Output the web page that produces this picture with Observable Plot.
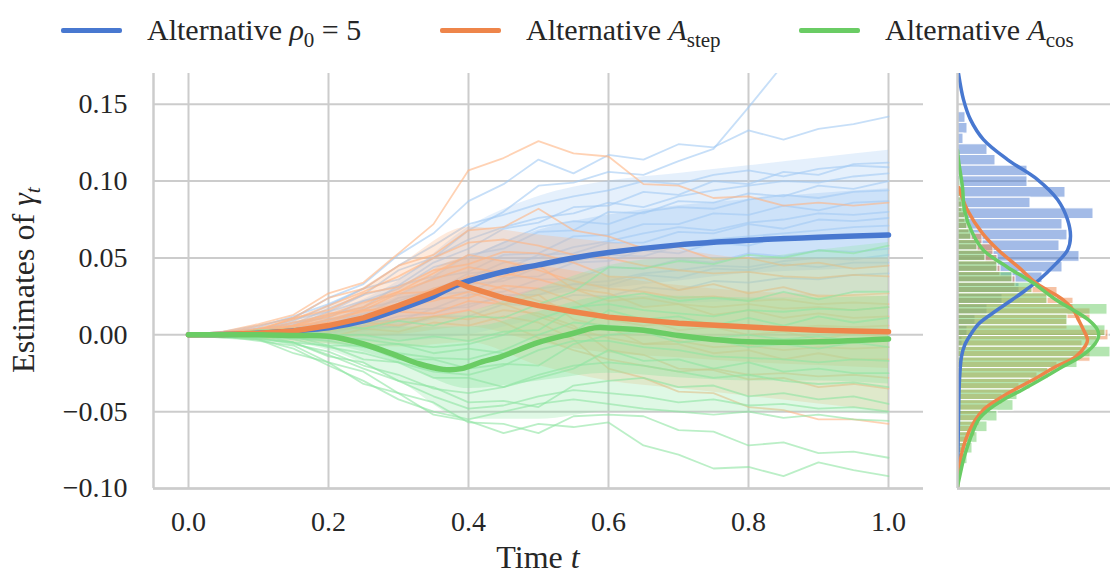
<!DOCTYPE html>
<html><head><meta charset="utf-8">
<script src="https://cdn.jsdelivr.net/npm/d3@7"></script>
<script src="https://cdn.jsdelivr.net/npm/@observablehq/plot@0.6"></script>
<style>
body{margin:0;background:#fff;font-family:"Liberation Serif",serif;color:#262626}
#wrap{position:relative;width:1110px;height:577px;overflow:hidden;background:#fff}
#legend{position:relative;height:56px;width:1110px}
.sw{position:absolute;top:28px;width:61px;height:4.5px;border-radius:2px}
.lt{position:absolute;top:15px;font-size:30px;line-height:30px;white-space:nowrap}
.lt .sb{font-size:21px;position:relative;top:7px}
#plots{display:flex;align-items:flex-start}
</style></head>
<body>
<div id="wrap">
  <div id="legend"></div>
  <div id="plots"></div>
</div>
<script>
// ---------- data ----------
const seriesNames = ["rho", "step", "cos"];
const meanColors = ["#4878d0", "#ee854a", "#6acc64"];
const pathColors = ["#a1c9f4", "#ffb482", "#8de5a1"];
const xTicks = [0, 0.2, 0.4, 0.6, 0.8, 1.0];
const yTicks = [-0.10, -0.05, 0.00, 0.05, 0.10, 0.15];

// time grid of the individual sample paths
const T = [0,0.05,0.1,0.15,0.2,0.25,0.3,0.35,0.4,0.45,0.5,0.55,0.6,0.65,0.7,0.75,0.8,0.85,0.9,0.95,1.0];

const bluePaths = [
  [0,0.001,0.004,0.007,0.017,0.026,0.042,0.05,0.068,0.08,0.097,0.099,0.106,0.104,0.113,0.121,0.148,0.176,0.19,0.203,0.212],
  [0,0.002,0.006,0.011,0.024,0.033,0.052,0.066,0.087,0.098,0.114,0.105,0.117,0.114,0.124,0.122,0.133,0.127,0.134,0.137,0.142],
  [0,0.001,0.003,0.01,0.015,0.026,0.032,0.047,0.056,0.069,0.073,0.083,0.084,0.093,0.091,0.1,0.098,0.106,0.104,0.111,0.112],
  [0,0.0,0.003,0.005,0.013,0.018,0.032,0.038,0.052,0.056,0.067,0.068,0.08,0.079,0.087,0.086,0.092,0.09,0.097,0.095,0.1],
  [0,0.001,0.002,0.008,0.011,0.022,0.026,0.037,0.041,0.052,0.053,0.064,0.065,0.072,0.072,0.079,0.078,0.084,0.081,0.086,0.087],
  [0,-0.001,0.003,0.004,0.01,0.013,0.024,0.028,0.04,0.042,0.052,0.053,0.06,0.06,0.067,0.066,0.072,0.069,0.075,0.074,0.076],
  [0,0.001,0.0,0.005,0.007,0.014,0.016,0.026,0.028,0.037,0.038,0.047,0.048,0.055,0.053,0.06,0.058,0.064,0.062,0.065,0.066],
  [0,-0.001,0.002,0.002,0.007,0.008,0.016,0.017,0.026,0.028,0.036,0.036,0.044,0.043,0.049,0.047,0.053,0.051,0.055,0.054,0.056],
  [0,0.001,-0.001,0.003,0.003,0.009,0.009,0.017,0.018,0.026,0.026,0.033,0.032,0.039,0.037,0.043,0.042,0.046,0.044,0.047,0.047],
  [0,0.0,-0.002,0.001,0.001,0.006,0.005,0.012,0.012,0.02,0.019,0.026,0.025,0.031,0.029,0.035,0.034,0.037,0.036,0.039,0.04],
  [0,0.001,0.005,0.012,0.02,0.03,0.045,0.058,0.072,0.078,0.085,0.09,0.094,0.1,0.098,0.104,0.107,0.103,0.108,0.11,0.109],
  [0,0.0,0.002,0.006,0.015,0.022,0.03,0.044,0.05,0.06,0.07,0.074,0.072,0.08,0.083,0.082,0.088,0.091,0.089,0.093,0.094],
  [0,0.001,0.001,0.004,0.009,0.017,0.022,0.03,0.037,0.047,0.05,0.057,0.061,0.066,0.07,0.068,0.073,0.075,0.079,0.078,0.08],
  [0,-0.001,0.001,0.004,0.006,0.012,0.02,0.025,0.033,0.035,0.044,0.048,0.052,0.051,0.058,0.062,0.064,0.066,0.068,0.07,0.071],
  [0,0.001,0.003,0.009,0.019,0.03,0.036,0.05,0.062,0.07,0.076,0.079,0.086,0.083,0.09,0.094,0.097,0.1,0.099,0.103,0.105],
  [0,0.0,0.0,0.001,0.004,0.006,0.012,0.014,0.02,0.024,0.03,0.033,0.035,0.04,0.042,0.045,0.044,0.048,0.05,0.049,0.052]
];
const orangePaths = [
  [0,0.002,0.007,0.013,0.027,0.034,0.053,0.072,0.107,0.115,0.126,0.118,0.116,0.098,0.097,0.089,0.09,0.084,0.086,0.084,0.086],
  [0,0.001,0.006,0.011,0.024,0.03,0.045,0.052,0.068,0.07,0.082,0.068,0.064,0.056,0.057,0.049,0.05,0.045,0.047,0.043,0.045],
  [0,0.002,0.003,0.011,0.016,0.027,0.031,0.042,0.046,0.054,0.053,0.047,0.038,0.037,0.029,0.033,0.027,0.031,0.025,0.026,0.027],
  [0,-0.001,0.004,0.006,0.014,0.016,0.027,0.028,0.038,0.038,0.045,0.03,0.027,0.018,0.02,0.013,0.016,0.011,0.014,0.011,0.012],
  [0,0.001,0.001,0.006,0.008,0.016,0.016,0.024,0.024,0.032,0.03,0.022,0.01,0.01,0.003,0.005,0.0,0.002,-0.003,0.001,-0.002],
  [0,-0.001,0.002,0.002,0.008,0.008,0.015,0.014,0.022,0.02,0.026,0.01,0.005,-0.006,-0.006,-0.012,-0.01,-0.016,-0.012,-0.016,-0.016],
  [0,0.001,-0.001,0.003,0.002,0.008,0.006,0.012,0.01,0.016,0.014,0.006,-0.01,-0.013,-0.022,-0.023,-0.029,-0.028,-0.034,-0.032,-0.035],
  [0,-0.001,-0.003,0.0,-0.002,0.004,0.002,0.008,0.006,0.012,0.008,-0.003,-0.022,-0.028,-0.037,-0.038,-0.047,-0.049,-0.055,-0.055,-0.058],
  [0,0.001,0.004,0.01,0.019,0.028,0.038,0.05,0.06,0.062,0.058,0.052,0.05,0.045,0.042,0.04,0.041,0.038,0.037,0.039,0.038],
  [0,0.0,0.003,0.008,0.013,0.021,0.028,0.036,0.044,0.04,0.036,0.03,0.022,0.024,0.02,0.018,0.02,0.017,0.018,0.016,0.018],
  [0,0.001,0.002,0.005,0.01,0.015,0.02,0.03,0.035,0.03,0.022,0.016,0.01,0.006,0.008,0.005,0.006,0.004,0.006,0.005,0.006],
  [0,-0.001,0.001,0.004,0.007,0.012,0.018,0.022,0.028,0.02,0.012,0.004,-0.002,-0.006,-0.004,-0.008,-0.007,-0.01,-0.008,-0.009,-0.008],
  [0,0.0,0.002,0.006,0.012,0.018,0.028,0.04,0.052,0.048,0.042,0.035,0.03,0.028,0.024,0.025,0.022,0.023,0.02,0.021,0.02],
  [0,0.0,-0.001,0.001,0.003,0.005,0.01,0.012,0.016,0.008,-0.002,-0.01,-0.016,-0.02,-0.024,-0.022,-0.026,-0.025,-0.027,-0.026,-0.028]
];
const greenPaths = [
  [0,-0.002,-0.003,-0.012,-0.018,-0.032,-0.038,-0.052,-0.056,-0.064,-0.058,-0.06,-0.057,-0.072,-0.078,-0.087,-0.086,-0.092,-0.083,-0.088,-0.092],
  [0,-0.001,-0.004,-0.007,-0.018,-0.024,-0.038,-0.044,-0.057,-0.058,-0.064,-0.053,-0.052,-0.053,-0.062,-0.063,-0.072,-0.07,-0.077,-0.076,-0.08],
  [0,0.001,-0.003,-0.005,-0.014,-0.018,-0.03,-0.034,-0.044,-0.043,-0.047,-0.033,-0.03,-0.028,-0.034,-0.033,-0.04,-0.038,-0.042,-0.04,-0.045],
  [0,-0.001,0.0,-0.005,-0.007,-0.016,-0.018,-0.028,-0.028,-0.034,-0.028,-0.022,-0.01,-0.017,-0.016,-0.022,-0.018,-0.024,-0.022,-0.025,-0.025],
  [0,0.001,-0.001,-0.001,-0.007,-0.007,-0.016,-0.016,-0.022,-0.019,-0.02,-0.006,0.0,0.002,-0.005,-0.003,-0.008,-0.006,-0.009,-0.005,-0.008],
  [0,0.0,0.002,-0.001,-0.001,-0.007,-0.006,-0.012,-0.009,-0.012,-0.004,0.002,0.016,0.01,0.012,0.006,0.011,0.006,0.012,0.008,0.011],
  [0,0.001,0.001,0.003,0.0,0.0,-0.004,-0.001,-0.004,0.002,0.003,0.017,0.024,0.027,0.022,0.024,0.022,0.028,0.023,0.028,0.028],
  [0,0.0,0.003,0.003,0.007,0.004,0.009,0.006,0.012,0.011,0.02,0.028,0.044,0.043,0.048,0.046,0.052,0.05,0.055,0.053,0.058],
  [0,-0.001,-0.003,-0.009,-0.02,-0.03,-0.042,-0.05,-0.055,-0.05,-0.045,-0.042,-0.045,-0.048,-0.05,-0.052,-0.05,-0.054,-0.052,-0.055,-0.056],
  [0,0.0,-0.002,-0.006,-0.011,-0.02,-0.026,-0.035,-0.038,-0.034,-0.026,-0.02,-0.018,-0.02,-0.024,-0.028,-0.026,-0.03,-0.032,-0.031,-0.034],
  [0,0.0,-0.001,-0.003,-0.008,-0.012,-0.018,-0.024,-0.026,-0.02,-0.01,-0.004,-0.004,-0.008,-0.01,-0.014,-0.015,-0.016,-0.018,-0.016,-0.017],
  [0,0.001,0.0,-0.002,-0.004,-0.008,-0.012,-0.015,-0.016,-0.01,0.0,0.008,0.006,0.004,0.0,-0.002,0.0,-0.003,-0.001,-0.004,-0.002],
  [0,0.0,0.001,0.0,-0.002,-0.003,-0.006,-0.008,-0.006,0.0,0.01,0.018,0.02,0.016,0.014,0.012,0.016,0.015,0.017,0.016,0.018],
  [0,-0.001,-0.002,-0.005,-0.013,-0.022,-0.03,-0.04,-0.048,-0.046,-0.04,-0.036,-0.038,-0.04,-0.044,-0.042,-0.046,-0.045,-0.048,-0.047,-0.05]
];

// spread of the sample-path clouds (outer and dense inner range)
const bandT = [0,0.1,0.2,0.3,0.4,0.5,0.6,0.7,0.8,0.9,1.0];
const blueOuterLo = [0,-0.002,-0.004,-0.004,0.0,0.01,0.015,0.02,0.022,0.025,0.028];
const blueOuterHi = [0,0.004,0.014,0.035,0.07,0.09,0.1,0.105,0.11,0.115,0.12];
const blueInnerLo = [0,-0.001,0.0,0.005,0.015,0.025,0.03,0.035,0.04,0.042,0.044];
const blueInnerHi = [0,0.002,0.01,0.025,0.05,0.068,0.078,0.084,0.088,0.092,0.095];
const orangeOuterLo = [0,-0.003,-0.006,-0.008,-0.005,-0.02,-0.03,-0.035,-0.04,-0.045,-0.05];
const orangeOuterHi = [0,0.005,0.018,0.045,0.07,0.065,0.06,0.055,0.05,0.05,0.05];
const orangeInnerLo = [0,-0.001,-0.002,0.0,0.005,-0.005,-0.012,-0.015,-0.018,-0.02,-0.022];
const orangeInnerHi = [0,0.003,0.012,0.03,0.05,0.045,0.038,0.032,0.028,0.026,0.025];
const greenOuterLo = [0,-0.003,-0.01,-0.03,-0.055,-0.055,-0.05,-0.05,-0.05,-0.05,-0.052];
const greenOuterHi = [0,0.003,0.006,0.01,0.015,0.03,0.045,0.05,0.05,0.055,0.06];
const greenInnerLo = [0,-0.002,-0.006,-0.018,-0.035,-0.03,-0.025,-0.028,-0.03,-0.03,-0.032];
const greenInnerHi = [0,0.002,0.004,0.005,0.005,0.015,0.025,0.025,0.024,0.024,0.025];

// mean estimates
const blueMeanT = [0,0.05,0.1,0.15,0.2,0.25,0.3,0.35,0.384,0.45,0.5,0.55,0.6,0.7,0.8,0.9,1.0];
const blueMeanV = [0,0.0002,0.001,0.0025,0.0045,0.009,0.0165,0.025,0.0325,0.041,0.0455,0.05,0.0535,0.0585,0.0615,0.0635,0.065];
const orangeMeanT = [0,0.05,0.1,0.15,0.2,0.25,0.3,0.35,0.384,0.4,0.45,0.5,0.55,0.6,0.7,0.8,0.9,1.0];
const orangeMeanV = [0,0.0002,0.001,0.0025,0.006,0.011,0.019,0.0275,0.034,0.031,0.024,0.019,0.015,0.0115,0.0075,0.005,0.003,0.002];
const greenMeanT = [0,0.1,0.15,0.2,0.25,0.3,0.33,0.364,0.39,0.42,0.446,0.5,0.55,0.58,0.6,0.65,0.7,0.75,0.8,0.9,1.0];
const greenMeanV = [0,0,-0.0005,-0.001,-0.006,-0.014,-0.019,-0.0225,-0.022,-0.0175,-0.0143,-0.005,0.001,0.0045,0.0045,0.003,-0.0005,-0.003,-0.0045,-0.0045,-0.0027];

// marginal histograms of the final estimates
const binWidth = 0.00695;
const blueBinTop = 0.1448;
const blueCounts = [8,10,6,30,38,70,70,108,73,136,105,110,102,122,105,85,62,45,30,18,10,5,3,2,1];
const orangeBinTop = 0.1006;
const orangeCounts = [2,3,5,8,12,25,36,40,43,58,100,116,133,110,151,125,133,100,80,62,45,30,22,18,12,8,5,4,3];
const greenBinTop = 0.1104;
const greenCounts = [2,3,5,6,8,10,14,20,28,40,55,75,90,150,110,148,140,153,120,91,73,60,56,40,30,20,15,10,5,3];

// smoothed densities
const blueKdeV = [0.17,0.153,0.14,0.127,0.114,0.101,0.088,0.075,0.064,0.055,0.046,0.036,0.029,0.023,0.014,0.007,0,-0.007,-0.014,-0.029,-0.055,-0.099];
const blueKdeD = [1,6,13,26,50,80,100,110,113,110,98,82,68,55,35,21,13,7,4,2,1,0];
const orangeKdeV = [0.096,0.081,0.066,0.055,0.044,0.034,0.029,0.023,0.016,0.0097,0.0032,-0.0032,-0.0071,-0.0143,-0.0208,-0.0273,-0.0357,-0.0422,-0.0487,-0.0552,-0.0636,-0.0727,-0.0812,-0.0896,-0.0987];
const orangeKdeD = [1,10,25,41,61,78,90,105,116,121,126,130,128,118,98,81,57,40,26,18,11,6,3,1,0];
const greenKdeV = [0.12,0.1136,0.096,0.081,0.066,0.055,0.044,0.034,0.023,0.016,0.0097,0.0032,-0.0013,-0.0071,-0.0143,-0.0208,-0.0273,-0.0357,-0.0422,-0.0487,-0.0552,-0.0636,-0.0727,-0.0812,-0.0896,-0.0987];
const greenKdeD = [0,1,5,7,15,26,50,75,98,116,131,140,141,136,123,105,88,65,46,31,21,15,10,6,3,0];

// ---------- build tables ----------
const pathRows = (paths, s) => paths.flatMap((p, k) => T.map((t, i) => ({t, v: p[i], id: s + k})));
const bandRows = (lo, hi) => bandT.map((t, i) => ({t, lo: lo[i], hi: hi[i]}));
const meanRows = (ts, vs) => ts.map((t, i) => ({t, v: vs[i]}));
const binRows = (top, counts) => counts.map((c, i) => ({hi: top - i * binWidth, lo: top - (i + 1) * binWidth, c}));
const kdeRows = (vs, ds) => vs.map((v, i) => ({v, d: ds[i]}));

const grid = "#cccccc";
const font = "Liberation Serif, serif";

// ---------- legend ----------
const legend = document.getElementById("legend");
const legendItems = [
  {sw: 61, tx: 147, html: 'Alternative <i>ρ</i><span class="sb">0</span> = 5'},
  {sw: 440, tx: 526, html: 'Alternative <i>A</i><span class="sb">step</span>'},
  {sw: 799, tx: 885, html: 'Alternative <i>A</i><span class="sb">cos</span>'}
];
legendItems.forEach((it, i) => {
  const s = document.createElement("div");
  s.className = "sw"; s.style.left = it.sw + "px"; s.style.background = meanColors[i];
  legend.appendChild(s);
  const t = document.createElement("div");
  t.className = "lt"; t.style.left = it.tx + "px"; t.innerHTML = it.html;
  legend.appendChild(t);
});

// ---------- main panel ----------
const bandMarks = (lo1, hi1, lo2, hi2, color) => [
  Plot.areaY(bandRows(lo1, hi1), {x: "t", y1: "lo", y2: "hi", fill: color, fillOpacity: 0.28, curve: "monotone-x"}),
  Plot.areaY(bandRows(lo2, hi2), {x: "t", y1: "lo", y2: "hi", fill: color, fillOpacity: 0.35, curve: "monotone-x"})
];
const pathOpts = (color) => ({x: "t", y: "v", z: "id", stroke: color, strokeOpacity: 0.6, strokeWidth: 1.8, clip: true});
const main = Plot.plot({
  width: 935, height: 521,
  marginTop: 17, marginBottom: 89, marginLeft: 153, marginRight: 12,
  style: {fontFamily: font, fontSize: "28px", color: "#262626", background: "white"},
  x: {domain: [-0.05, 1.05]},
  y: {domain: [-0.1, 0.17]},
  marks: [
    Plot.gridX(xTicks, {stroke: grid, strokeOpacity: 1, strokeWidth: 2}),
    Plot.gridY(yTicks, {stroke: grid, strokeOpacity: 1, strokeWidth: 2}),
    ...bandMarks(blueOuterLo, blueOuterHi, blueInnerLo, blueInnerHi, pathColors[0]),
    Plot.line(pathRows(bluePaths, "b"), pathOpts(pathColors[0])),
    ...bandMarks(orangeOuterLo, orangeOuterHi, orangeInnerLo, orangeInnerHi, pathColors[1]),
    Plot.line(pathRows(orangePaths, "o"), pathOpts(pathColors[1])),
    ...bandMarks(greenOuterLo, greenOuterHi, greenInnerLo, greenInnerHi, pathColors[2]),
    Plot.line(pathRows(greenPaths, "g"), pathOpts(pathColors[2])),
    Plot.line(meanRows(blueMeanT, blueMeanV), {x: "t", y: "v", stroke: meanColors[0], strokeWidth: 5.5, curve: "catmull-rom"}),
    Plot.line(meanRows(orangeMeanT, orangeMeanV), {x: "t", y: "v", stroke: meanColors[1], strokeWidth: 5.5}),
    Plot.line(meanRows(greenMeanT, greenMeanV), {x: "t", y: "v", stroke: meanColors[2], strokeWidth: 5.5, curve: "catmull-rom"}),
    Plot.ruleX([-0.05], {stroke: grid, strokeWidth: 2.5}),
    Plot.ruleY([-0.1], {stroke: grid, strokeWidth: 2.5}),
    Plot.axisX(xTicks, {tickSize: 0, tickPadding: 23, tickFormat: d3.format(".1f"), label: null}),
    Plot.axisY(yTicks, {tickSize: 0, tickPadding: 26, tickFormat: d3.format(".2f"), label: null})
  ]
});

// axis labels with math styling
const ms = d3.select(main);
const yl = ms.append("text")
  .attr("transform", "translate(34,224) rotate(-90)")
  .attr("text-anchor", "middle").attr("fill", "#262626")
  .style("font-family", font).style("font-size", "32px");
yl.append("tspan").text("Estimates of ");
yl.append("tspan").attr("font-style", "italic").text("γ");
yl.append("tspan").attr("font-style", "italic").attr("font-size", "22px").attr("dy", 6).text("t");
const xl = ms.append("text")
  .attr("x", 538).attr("y", 512)
  .attr("text-anchor", "middle").attr("fill", "#262626")
  .style("font-family", font).style("font-size", "32px");
xl.append("tspan").text("Time ");
xl.append("tspan").attr("font-style", "italic").text("t");

// ---------- marginal histogram panel ----------
const hist = Plot.plot({
  width: 175, height: 521,
  marginTop: 17, marginBottom: 89, marginLeft: 22, marginRight: 0,
  style: {background: "white"},
  x: {domain: [0, 153], axis: null},
  y: {domain: [-0.1, 0.17], axis: null},
  marks: [
    Plot.gridY(yTicks, {stroke: grid, strokeOpacity: 1, strokeWidth: 2}),
    Plot.rectX(binRows(blueBinTop, blueCounts), {x1: 0, x2: "c", y1: "lo", y2: "hi", fill: meanColors[0], fillOpacity: 0.5, stroke: "white", strokeWidth: 1, clip: true}),
    Plot.rectX(binRows(orangeBinTop, orangeCounts), {x1: 0, x2: "c", y1: "lo", y2: "hi", fill: meanColors[1], fillOpacity: 0.5, stroke: "white", strokeWidth: 1, clip: true}),
    Plot.rectX(binRows(greenBinTop, greenCounts), {x1: 0, x2: "c", y1: "lo", y2: "hi", fill: meanColors[2], fillOpacity: 0.5, stroke: "white", strokeWidth: 1, clip: true}),
    Plot.line(kdeRows(blueKdeV, blueKdeD), {x: "d", y: "v", stroke: meanColors[0], strokeWidth: 3.5, curve: "catmull-rom", clip: true}),
    Plot.line(kdeRows(orangeKdeV, orangeKdeD), {x: "d", y: "v", stroke: meanColors[1], strokeWidth: 3.5, curve: "catmull-rom", clip: true}),
    Plot.line(kdeRows(greenKdeV, greenKdeD), {x: "d", y: "v", stroke: meanColors[2], strokeWidth: 3.5, curve: "catmull-rom", clip: true}),
    Plot.ruleX([0], {stroke: grid, strokeWidth: 2.5}),
    Plot.ruleY([-0.1], {stroke: grid, strokeWidth: 2.5})
  ]
});

const plots = document.getElementById("plots");
plots.appendChild(main);
plots.appendChild(hist);
</script>
</body></html>
